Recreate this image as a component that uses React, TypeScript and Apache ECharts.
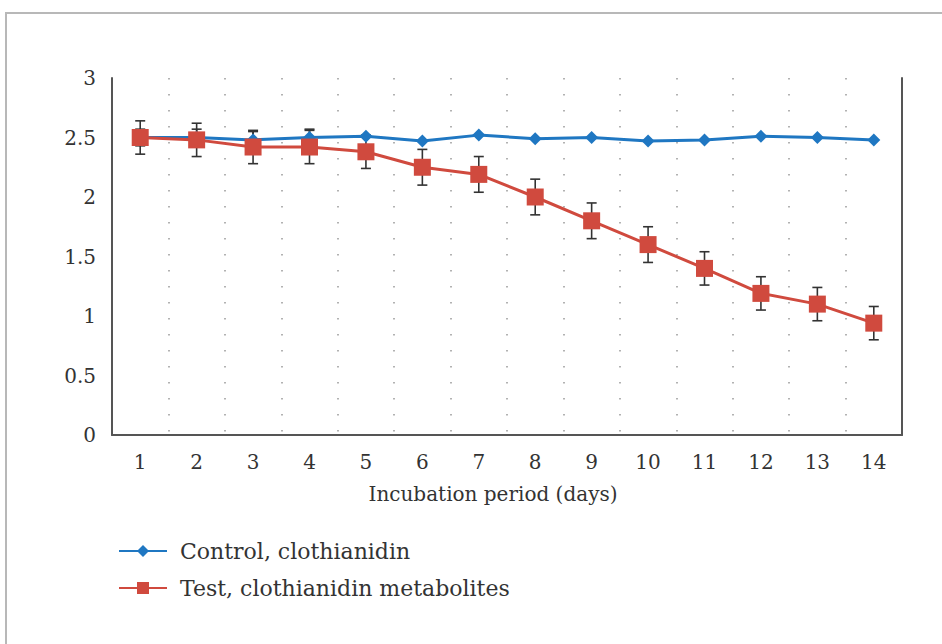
import React, { useEffect, useRef } from "react";
import * as echarts from "echarts";

const days = ["1", "2", "3", "4", "5", "6", "7", "8", "9", "10", "11", "12", "13", "14"];
const controlValues = [2.5, 2.5, 2.48, 2.5, 2.51, 2.47, 2.52, 2.49, 2.5, 2.47, 2.48, 2.51, 2.5, 2.48];
const controlErrors = [0.07, 0.07, 0.07, 0.07, 0, 0, 0, 0, 0, 0, 0, 0, 0, 0];
const testValues = [2.5, 2.48, 2.42, 2.42, 2.38, 2.25, 2.19, 2.0, 1.8, 1.6, 1.4, 1.19, 1.1, 0.94];
const testErrors = [0.14, 0.14, 0.14, 0.14, 0.14, 0.15, 0.15, 0.15, 0.15, 0.15, 0.14, 0.14, 0.14, 0.14];
const controlName = "Control, clothianidin";
const testName = "Test, clothianidin metabolites";
const xAxisName = "Incubation period (days)";

const FONT = "'DejaVu Serif', 'Liberation Serif', serif";
const BLUE = "#1f77c2";
const RED = "#d04a3e";
const TEXT = "#333";

function errorData(values: number[], errs: number[]) {
  return values.map((v, i) => [i, v - errs[i], v + errs[i]]);
}

function renderError(params: any, api: any) {
  const lo = api.coord([api.value(0), api.value(1)]);
  const hi = api.coord([api.value(0), api.value(2)]);
  const cap = 5;
  const style = { stroke: "#333", lineWidth: 1.6 };
  return {
    type: "group",
    children: [
      { type: "line", shape: { x1: lo[0], y1: lo[1], x2: hi[0], y2: hi[1] }, style },
      { type: "line", shape: { x1: lo[0] - cap, y1: lo[1], x2: lo[0] + cap, y2: lo[1] }, style },
      { type: "line", shape: { x1: hi[0] - cap, y1: hi[1], x2: hi[0] + cap, y2: hi[1] }, style },
    ],
  };
}

export default function App() {
  const ref = useRef<HTMLDivElement>(null);
  useEffect(() => {
    if (!ref.current) return;
    const chart = echarts.init(ref.current, null, { renderer: "svg" });
    chart.setOption({
      animation: false,
      backgroundColor: "#fff",
      graphic: [
        {
          type: "rect",
          shape: { x: 6, y: 13, width: 1000, height: 700 },
          style: { fill: "none", stroke: "#b8b8b8", lineWidth: 2 },
          silent: true,
        },
      ],
      grid: { left: 112, right: 40, top: 78, bottom: 209 },
      legend: {
        data: [controlName, testName],
        orient: "vertical",
        left: 113,
        top: 535,
        itemWidth: 48,
        itemHeight: 15,
        itemGap: 15,
        textStyle: { fontFamily: FONT, fontSize: 22, color: TEXT, padding: [0, 0, 0, 8] },
      },
      xAxis: {
        type: "category",
        data: days,
        boundaryGap: true,
        name: xAxisName,
        nameLocation: "middle",
        nameGap: 49,
        nameTextStyle: { fontFamily: FONT, fontSize: 20, color: TEXT, padding: [0, 28, 0, 0] },
        axisLine: { lineStyle: { color: "#555", width: 2 } },
        axisTick: { show: false },
        axisLabel: { fontFamily: FONT, fontSize: 20, color: TEXT, margin: 17 },
        splitLine: { show: true, lineStyle: { color: "#999", width: 1.5, type: [1.5, 14.5] } },
      },
      yAxis: [
        {
          type: "value",
          min: 0,
          max: 3,
          interval: 0.5,
          axisLine: { show: true, lineStyle: { color: "#555", width: 2 } },
          axisTick: { show: false },
          axisLabel: { fontFamily: FONT, fontSize: 20, color: TEXT, margin: 16 },
          splitLine: { show: false },
        },
        {
          type: "value",
          min: 0,
          max: 3,
          interval: 0.5,
          position: "right",
          axisLine: { show: true, lineStyle: { color: "#555", width: 2 } },
          axisTick: { show: false },
          axisLabel: { show: false },
          splitLine: { show: false },
        },
      ],
      series: [
        {
          type: "custom",
          name: "controlErr",
          renderItem: renderError,
          data: errorData(controlValues, controlErrors),
          z: 1,
          silent: true,
        },
        {
          type: "custom",
          name: "testErr",
          renderItem: renderError,
          data: errorData(testValues, testErrors),
          z: 1,
          silent: true,
        },
        {
          type: "line",
          name: controlName,
          data: controlValues,
          symbol: "diamond",
          symbolSize: 13,
          lineStyle: { color: BLUE, width: 3 },
          itemStyle: { color: BLUE },
          z: 3,
        },
        {
          type: "line",
          name: testName,
          data: testValues,
          symbol: "rect",
          symbolSize: 17,
          lineStyle: { color: RED, width: 3 },
          itemStyle: { color: RED },
          z: 4,
        },
      ],
    });
    return () => chart.dispose();
  }, []);
  return (
    <div
      ref={ref}
      style={{ position: "fixed", left: 0, top: 0, width: 942, height: 644 }}
    />
  );
}
